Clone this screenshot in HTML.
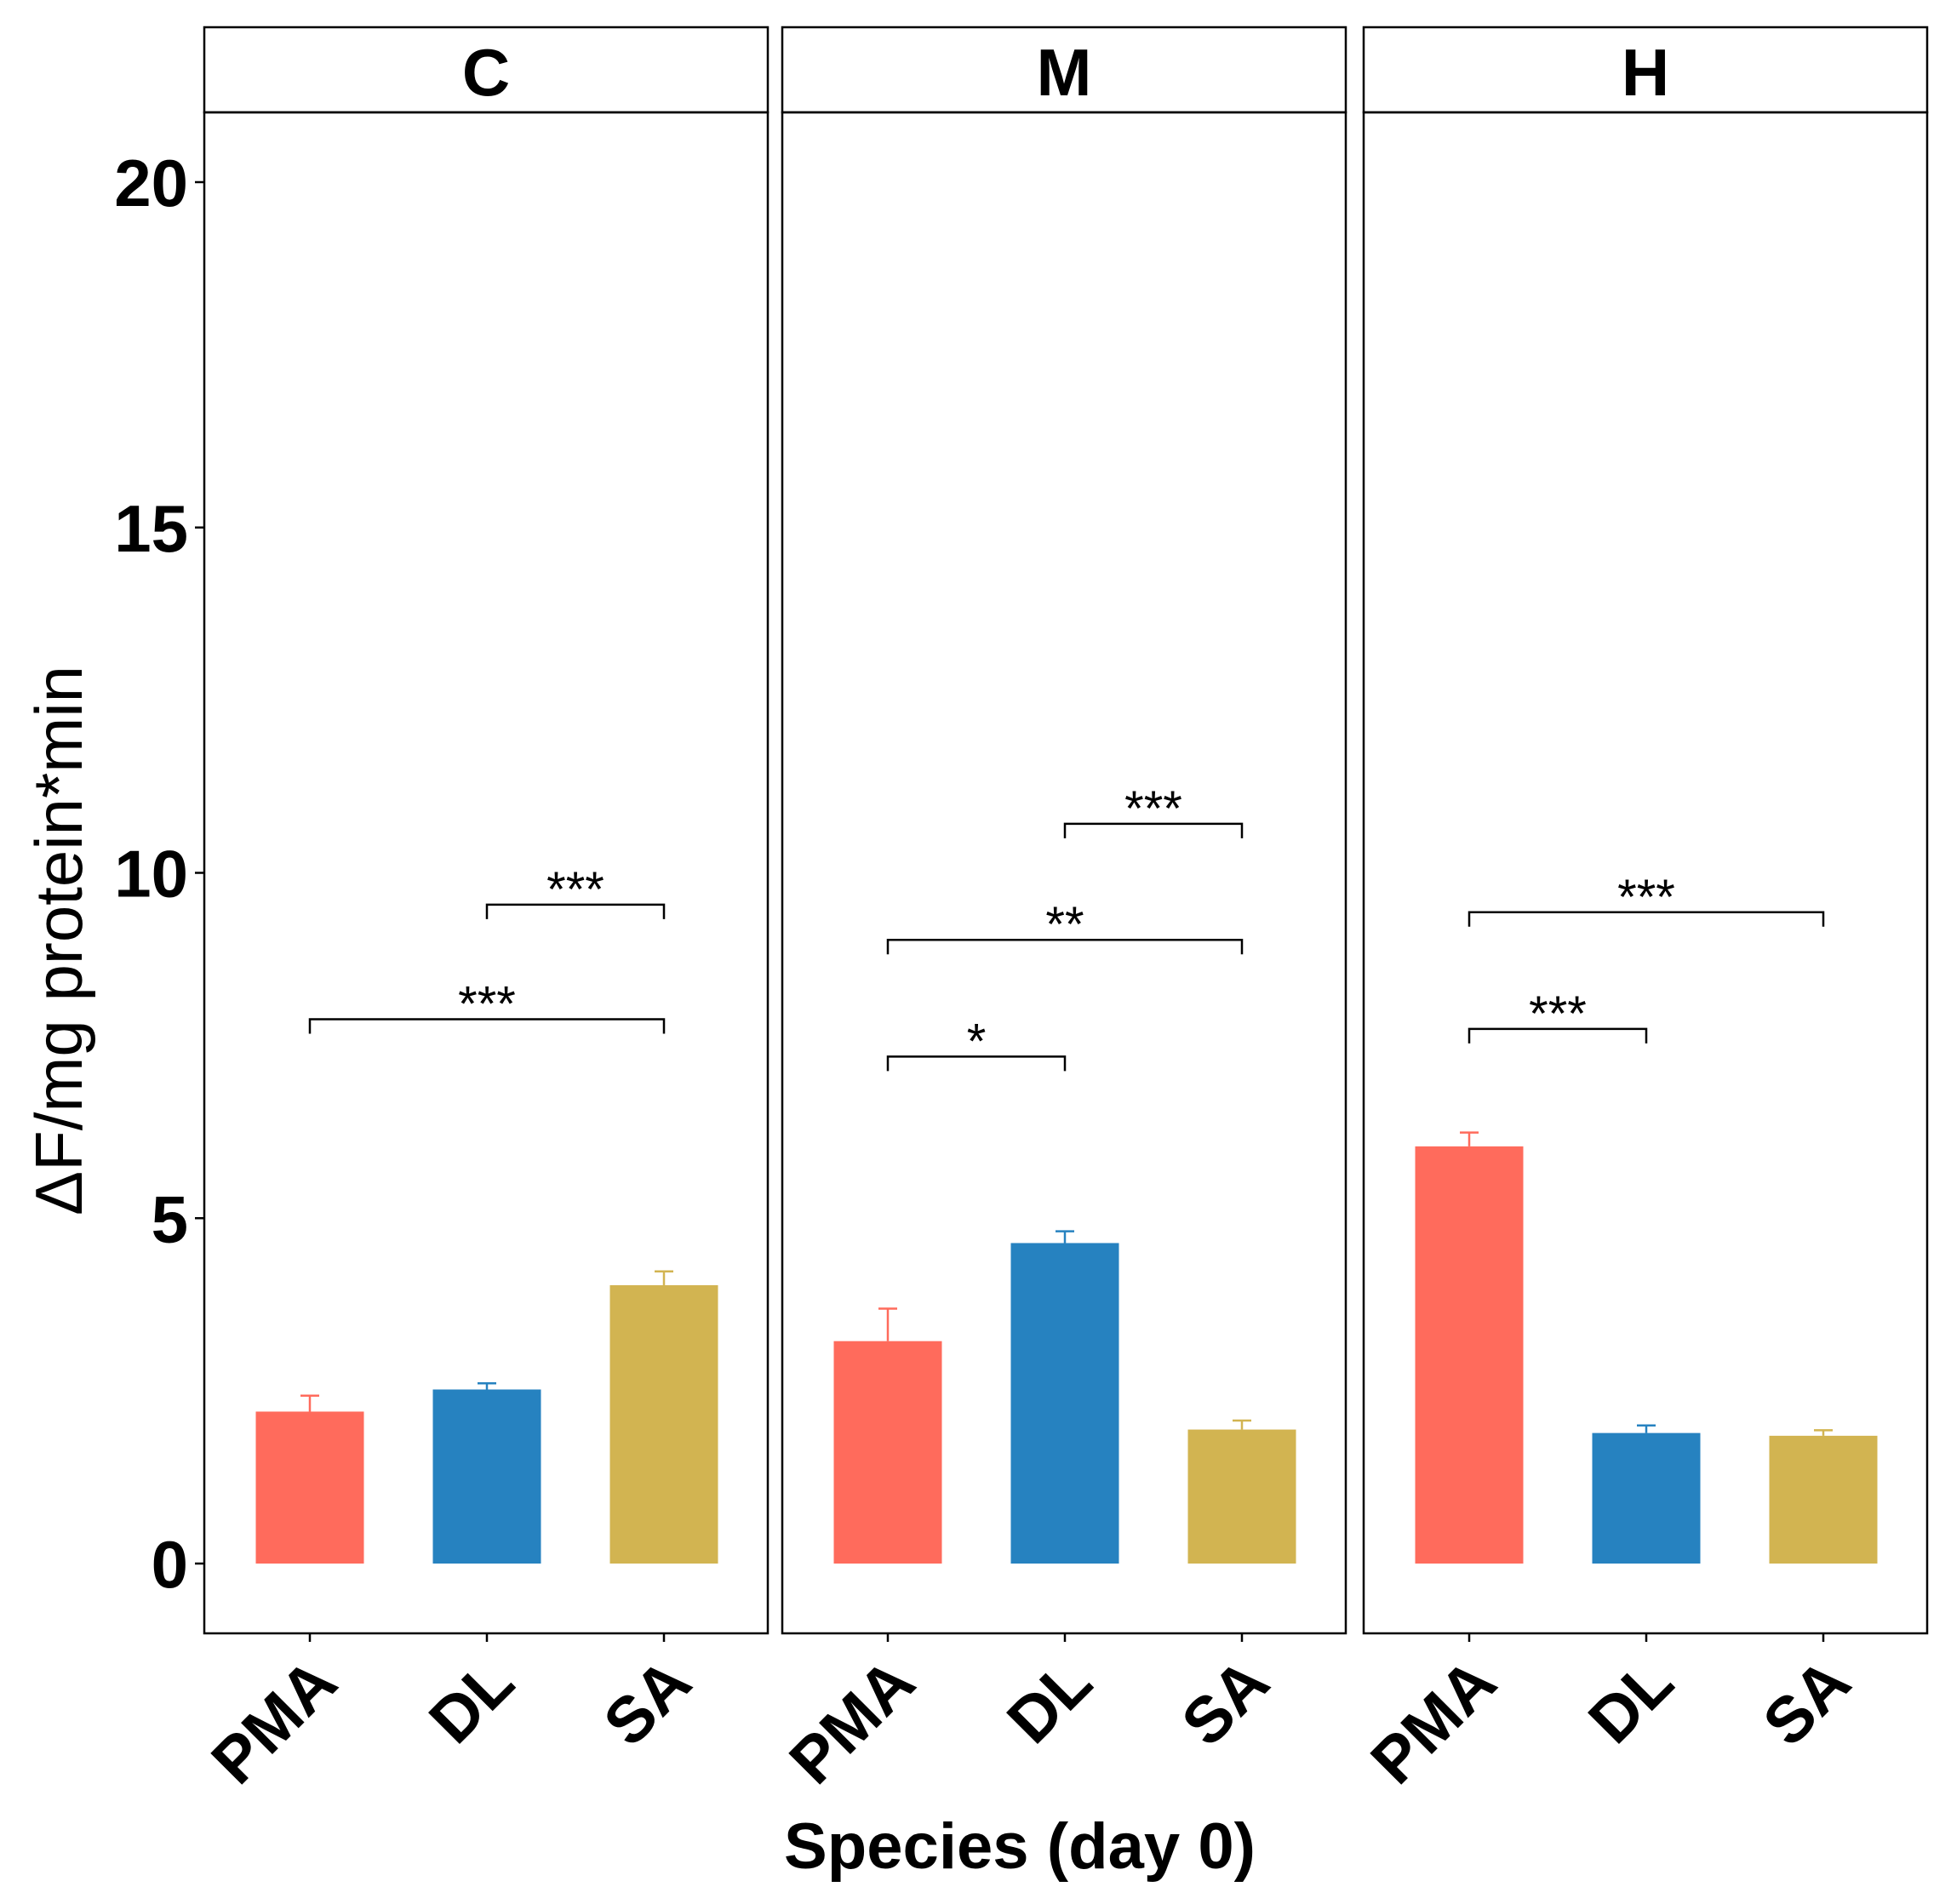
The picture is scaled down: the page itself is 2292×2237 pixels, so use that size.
<!DOCTYPE html>
<html><head><meta charset="utf-8"><style>
html,body{margin:0;padding:0;background:#fff;}
svg{display:block;font-family:"Liberation Sans",Arial,sans-serif;}
</style></head><body>
<svg id="chart" width="2292" height="2237" viewBox="0 0 2292 2237" xmlns="http://www.w3.org/2000/svg">
<text transform="translate(96,1105) rotate(-90)" text-anchor="middle" font-size="78" fill="#000">ΔF/mg protein*min</text>
<text x="1198" y="2195" text-anchor="middle" font-size="76" font-weight="bold" textLength="554" lengthAdjust="spacingAndGlyphs" fill="#000">Species (day 0)</text>
<g id="panels"></g>
</svg>
<script>
const panels = ["C", "M", "H"];
const categories = ["PMA", "DL", "SA"];
const colors = ["#FF6B5C", "#2682C0", "#D2B451"];
const meansC = [2.2, 2.52, 4.03];
const meansM = [3.22, 4.64, 1.94];
const meansH = [6.04, 1.89, 1.85];
const errC = [2.43, 2.61, 4.23];
const errM = [3.69, 4.81, 2.07];
const errH = [6.24, 2.0, 1.93];
const yTicks = [0, 5, 10, 15, 20];
const sigC = [[1, 2, 9.54, "***"], [0, 2, 7.88, "***"]];
const sigM = [[1, 2, 10.71, "***"], [0, 2, 9.03, "**"], [0, 1, 7.34, "*"]];
const sigH = [[0, 2, 9.43, "***"], [0, 1, 7.74, "***"]];

const means = [meansC, meansM, meansH];
const errs = [errC, errM, errH];
const sigs = [sigC, sigM, sigH];
const NS = "http://www.w3.org/2000/svg";
const g = document.getElementById("panels");
const panelLeft = [240, 919, 1602], panelW = 662, plotTop = 132, plotBottom = 1919, stripTop = 32;
const y0 = 1837, pxPerUnit = 81.15;
function yS(v){ return y0 - v * pxPerUnit; }
function xS(p, i){ return panelLeft[p] + 124 + i * 208; }
function mk(tag, attrs, parent){ const e = document.createElementNS(NS, tag); for (const k in attrs) e.setAttribute(k, attrs[k]); (parent||g).appendChild(e); return e; }

yTicks.forEach(t => {
  const tl = mk("text", {x: 221, y: yS(t) + 28, "text-anchor": "end", "font-size": 78, "font-weight": "bold", fill: "#000"});
  
  
  tl.textContent = t;
  const tk = mk("line", {x1: 229, x2: 240, y1: yS(t), y2: yS(t), stroke: "#000", "stroke-width": 2.5});
  
  
});

panels.forEach((name, p) => {
  const L = panelLeft[p];
  const strip = mk("rect", {x: L, y: stripTop, width: panelW, height: plotTop - stripTop, fill: "#fff", stroke: "#000", "stroke-width": 2.5});
  
  
  const st = mk("text", {x: L + panelW / 2, y: 112, "text-anchor": "middle", "font-size": 78, "font-weight": "bold", fill: "#000"});
  
  
  st.textContent = name;
  const frame = mk("rect", {x: L, y: plotTop, width: panelW, height: plotBottom - plotTop, fill: "none", stroke: "#000", "stroke-width": 2.5});
  
  
  categories.forEach((c, i) => {
    const cx = xS(p, i);
    const bar = mk("rect", {x: cx - 63.5, y: yS(means[p][i]), width: 127, height: yS(0) - yS(means[p][i]), fill: colors[i]});
    
    
    const ev = mk("line", {x1: cx, x2: cx, y1: yS(means[p][i]), y2: yS(errs[p][i]), stroke: colors[i], "stroke-width": 2.5});
    
    
    const ec = mk("line", {x1: cx - 11, x2: cx + 11, y1: yS(errs[p][i]), y2: yS(errs[p][i]), stroke: colors[i], "stroke-width": 2.5});
    
    
    const xt = mk("line", {x1: cx, x2: cx, y1: plotBottom, y2: plotBottom + 10, stroke: "#000", "stroke-width": 2.5});
    
    
    const xl = mk("text", {transform: `translate(${cx + 36},${plotBottom + 62}) rotate(-45)`, "text-anchor": "end", "font-size": 76, "font-weight": "bold", fill: "#000"});
    
    
    xl.textContent = c;
  });
  sigs[p].forEach(s => {
    const xa = xS(p, s[0]), xb = xS(p, s[1]), yy = yS(s[2]);
    const br = mk("path", {d: `M${xa},${yy + 17} V${yy} H${xb} V${yy + 17}`, fill: "none", stroke: "#000", "stroke-width": 2.5});
    
    
    const sl = mk("text", {x: (xa + xb) / 2, y: yy + 2, "text-anchor": "middle", "font-size": 58, fill: "#000"});
    
    
    sl.textContent = s[3];
  });
});
</script>
</body></html>
